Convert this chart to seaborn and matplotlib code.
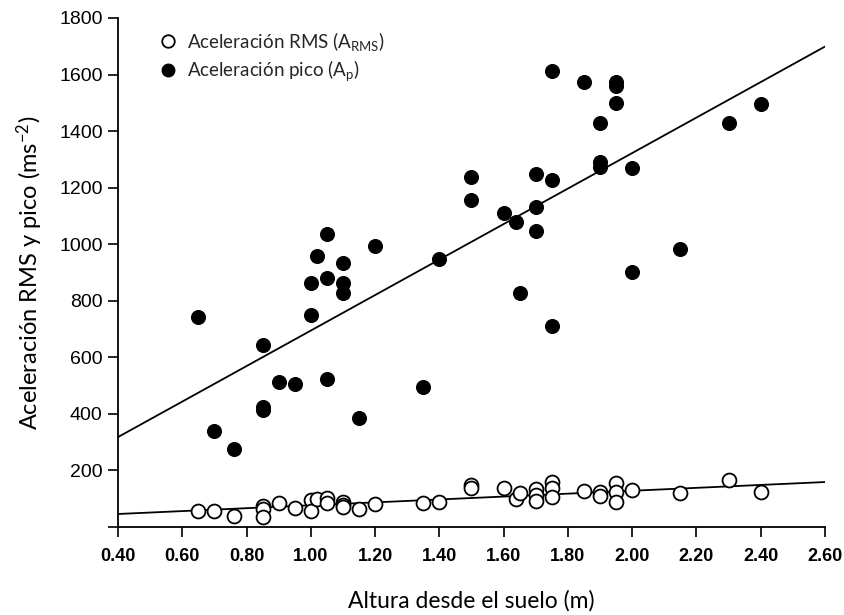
import matplotlib
matplotlib.use("Agg")
import matplotlib.pyplot as plt
import seaborn as sns
import pandas as pd
from matplotlib.lines import Line2D

# Height above the floor (m) and peak acceleration (m/s^2)
pico_x = [0.65, 0.70, 0.76, 0.85, 0.85, 0.85, 0.90, 0.95, 1.00, 1.00, 1.02,
          1.05, 1.05, 1.05, 1.10, 1.10, 1.10, 1.15, 1.20, 1.35, 1.40, 1.50,
          1.50, 1.60, 1.64, 1.65, 1.70, 1.70, 1.70, 1.75, 1.75, 1.75, 1.85,
          1.90, 1.90, 1.90, 1.95, 1.95, 1.95, 2.00, 2.00, 2.15, 2.30, 2.40]
pico_y = [743, 340, 276, 644, 425, 414, 513, 506, 750, 864, 959,
          1037, 881, 524, 935, 864, 828, 386, 994, 495, 949, 1238,
          1158, 1110, 1080, 828, 1250, 1133, 1048, 1611, 1228, 712, 1575,
          1427, 1290, 1274, 1575, 1561, 1501, 1270, 903, 984, 1427, 1497]

# Height above the floor (m) and RMS acceleration (m/s^2)
rms_x = [0.65, 0.70, 0.76, 0.85, 0.85, 0.85, 0.90, 0.95, 1.00, 1.00, 1.02,
         1.05, 1.05, 1.10, 1.10, 1.10, 1.15, 1.20, 1.35, 1.40, 1.50, 1.50,
         1.60, 1.64, 1.65, 1.70, 1.70, 1.70, 1.75, 1.75, 1.75, 1.85, 1.90,
         1.90, 1.95, 1.95, 1.95, 2.00, 2.15, 2.30, 2.40]
rms_y = [57, 57, 39, 75, 65, 35, 85, 67, 94, 55, 99,
         103, 85, 90, 78, 70, 65, 81, 85, 88, 149, 138,
         138, 99, 120, 134, 113, 92, 159, 138, 106, 127, 124,
         110, 156, 124, 88, 131, 120, 166, 124]

# Linear fits evaluated at the ends of the x range
fit_x = [0.40, 2.60]
pico_fit = [318, 1699]
rms_fit = [46, 159]

xticks = [0.40, 0.60, 0.80, 1.00, 1.20, 1.40, 1.60, 1.80, 2.00, 2.20, 2.40, 2.60]
xtick_labels = ["0.40", "0.60", "0.80", "1.00", "1.20", "1.40", "1.60",
                "1.80", "2.00", "2.20", "2.40", "2.60"]
yticks = [0, 200, 400, 600, 800, 1000, 1200, 1400, 1600, 1800]
ytick_labels = ["", "200", "400", "600", "800", "1000", "1200", "1400",
                "1600", "1800"]

labels = ["Aceleración RMS (A$_{\\mathregular{RMS}}$)",
          "Aceleración pico (A$_{\\mathregular{p}}$)"]

sns.set_theme(style="ticks")
plt.rcParams["font.family"] = ["Lato", "DejaVu Sans"]
plt.rcParams["mathtext.default"] = "regular"

df_pico = pd.DataFrame({"x": pico_x, "y": pico_y})
df_rms = pd.DataFrame({"x": rms_x, "y": rms_y})
df_fit = pd.DataFrame({"x": fit_x, "pico": pico_fit, "rms": rms_fit})

fig = plt.figure(figsize=(8.45, 6.15), dpi=100)
ax = fig.add_axes([118 / 845, 1 - 527 / 615, (825 - 118) / 845, (527 - 18) / 615])

sns.lineplot(data=df_fit, x="x", y="pico", ax=ax, color="black", lw=1.3, zorder=2)
sns.lineplot(data=df_fit, x="x", y="rms", ax=ax, color="black", lw=1.3, zorder=2)

sns.scatterplot(data=df_pico, x="x", y="y", ax=ax, s=100, color="black",
                edgecolor="black", linewidth=0.8, zorder=3)
sns.scatterplot(data=df_rms, x="x", y="y", ax=ax, s=100, facecolor="white",
                edgecolor="black", linewidth=1.3, zorder=4)

ax.set_xlim(0.40, 2.60)
ax.set_ylim(0, 1800)
ax.set_xticks(xticks)
ax.set_xticklabels(xtick_labels, fontfamily="Liberation Sans", fontweight="bold",
                   fontsize=13)
ax.set_yticks(yticks)
ax.set_yticklabels(ytick_labels, fontfamily="Liberation Sans", fontsize=14)
ax.tick_params(axis="both", direction="out", length=7, width=1.2, colors="black",
               labelcolor="black")
ax.tick_params(axis="x", pad=8)
ax.tick_params(axis="y", pad=4)

for side in ["top", "right"]:
    ax.spines[side].set_visible(False)
for side in ["left", "bottom"]:
    ax.spines[side].set_linewidth(1.3)
    ax.spines[side].set_color("black")

ax.set_xlabel("Altura desde el suelo (m)", fontsize=16.5, labelpad=18, color="black")
ax.set_ylabel("Aceleración RMS y pico (ms$^{-2}$)", fontsize=17, labelpad=10,
              color="black")

handles = [
    Line2D([], [], marker="o", linestyle="none", markersize=9,
           markerfacecolor="white", markeredgecolor="black", markeredgewidth=1.3),
    Line2D([], [], marker="o", linestyle="none", markersize=9,
           markerfacecolor="black", markeredgecolor="black"),
]
ax.legend(handles, labels, loc="upper left", bbox_to_anchor=(0.034, 1.01),
          frameon=False, fontsize=13.5, handletextpad=0.5, labelspacing=0.3,
          handlelength=1.0)

fig.savefig("out.png", dpi=100)
